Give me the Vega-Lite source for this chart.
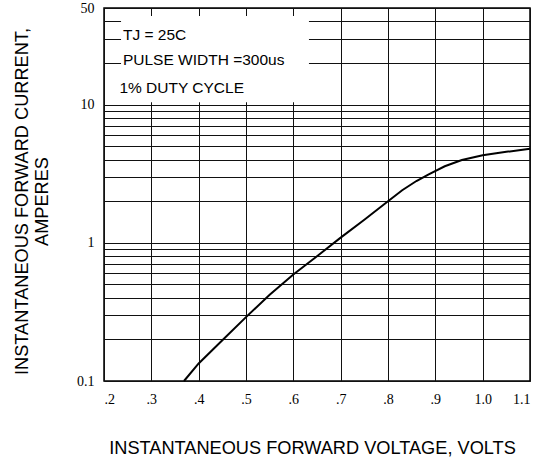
{
  "$schema": "https://vega.github.io/schema/vega-lite/v6.json",
  "width": 426,
  "height": 373,
  "autosize": {"type": "none"},
  "padding": {"left": 104, "top": 8, "right": 10, "bottom": 78},
  "background": "white",
  "config": {
    "view": {"stroke": "black", "strokeWidth": 1.5},
    "axis": {
      "domain": false,
      "ticks": false,
      "grid": true,
      "gridColor": "#111",
      "gridWidth": 1,
      "gridOpacity": 1,
      "labelFont": "Liberation Serif",
      "labelFontSize": 14,
      "labelColor": "black",
      "titleFont": "Liberation Sans",
      "titleFontSize": 18.2,
      "titleFontWeight": "normal",
      "titleColor": "black"
    }
  },
  "encoding": {
    "x": {
      "field": "v",
      "type": "quantitative",
      "scale": {"domain": [0.2, 1.1], "nice": false, "zero": false},
      "axis": {
        "values": [0.2, 0.3, 0.4, 0.5, 0.6, 0.7, 0.8, 0.9, 1.0, 1.1],
        "labelExpr": "datum.value >= 1 ? format(datum.value, '.1f') : replace(format(datum.value, '.1f'), '0.', '.')",
        "labelPadding": 11,
        "title": "INSTANTANEOUS FORWARD VOLTAGE, VOLTS",
        "titleBaseline": "alphabetic",
        "titleY": 72,
        "titleX": 208
      }
    },
    "y": {
      "field": "i",
      "type": "quantitative",
      "scale": {"type": "log", "domain": [0.1, 50], "nice": false},
      "axis": {
        "values": [0.1, 0.2, 0.3, 0.4, 0.5, 0.6, 0.7, 0.8, 0.9, 1, 2, 3, 4, 5, 6, 7, 8, 9, 10, 20, 30, 40, 50],
        "labelExpr": "datum.value == 50 ? '50' : datum.value == 10 ? '10' : datum.value == 1 ? '1' : datum.value == 0.1 ? '0.1' : ''",
        "labelPadding": 10,
        "labelBaseline": "middle",
        "title": ["INSTANTANEOUS FORWARD CURRENT,", "AMPERES"],
        "titleBaseline": "alphabetic",
        "titleLineHeight": 20,
        "titleX": -77,
        "titleY": 193,
        "titleAngle": -90,
        "titleAlign": "center"
      }
    }
  },
  "layer": [
    {
      "data": {"values": [{"v": 0.236, "v2": 0.633, "i": 10.4, "i2": 43.8}]},
      "mark": {"type": "rect", "fill": "white", "stroke": null},
      "encoding": {
        "x2": {"field": "v2"},
        "y2": {"field": "i2"}
      }
    },
    {
      "data": {"values": [
        {"v": 0.369, "i": 0.1},
        {"v": 0.4, "i": 0.134},
        {"v": 0.45, "i": 0.197},
        {"v": 0.5, "i": 0.29},
        {"v": 0.55, "i": 0.42},
        {"v": 0.6, "i": 0.59},
        {"v": 0.65, "i": 0.8},
        {"v": 0.7, "i": 1.09},
        {"v": 0.75, "i": 1.47},
        {"v": 0.8, "i": 2.0},
        {"v": 0.83, "i": 2.4},
        {"v": 0.86, "i": 2.8},
        {"v": 0.886, "i": 3.13},
        {"v": 0.92, "i": 3.58},
        {"v": 0.956, "i": 3.97},
        {"v": 1.0, "i": 4.3},
        {"v": 1.05, "i": 4.55},
        {"v": 1.1, "i": 4.8}
      ]},
      "mark": {"type": "line", "color": "black", "strokeWidth": 2}
    },
    {
      "data": {"values": [
        {"v": 0.240, "i": 29.3, "label": "TJ = 25C"},
        {"v": 0.240, "i": 19.3, "label": "PULSE WIDTH =300us"},
        {"v": 0.2325, "i": 12.2, "label": "1% DUTY CYCLE"}
      ]},
      "mark": {"type": "text", "align": "left", "baseline": "alphabetic", "font": "Liberation Sans", "fontSize": 15.5, "color": "black"},
      "encoding": {
        "text": {"field": "label"}
      }
    }
  ]
}
